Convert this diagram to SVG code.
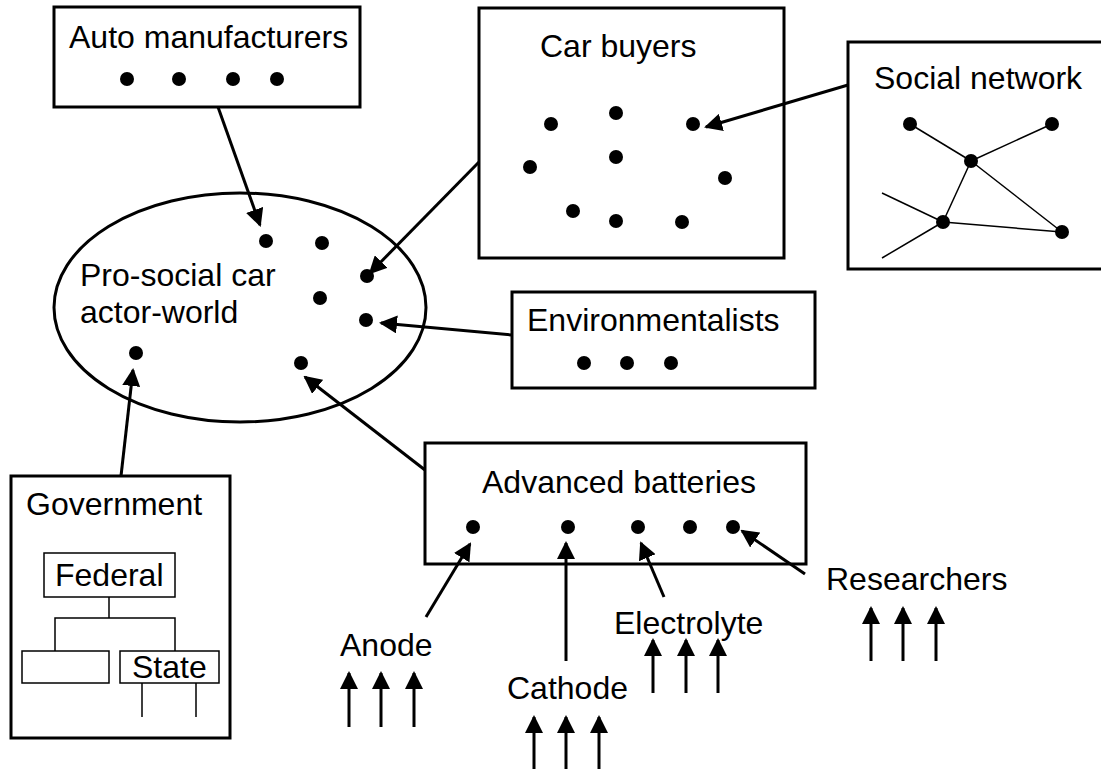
<svg xmlns="http://www.w3.org/2000/svg" width="1101" height="769" viewBox="0 0 1101 769">
<style>
text{font-family:"Liberation Sans",Arial,sans-serif;font-size:32px;fill:#000}
.box{fill:#fff;stroke:#000;stroke-width:3}
.thin{fill:none;stroke:#000;stroke-width:1.5}
.c{stroke:#000;stroke-width:3;fill:none}
.a{stroke:#000;stroke-width:3;fill:none;marker-end:url(#ah)}
</style>
<defs>
<marker id="ah" markerUnits="userSpaceOnUse" markerWidth="18" markerHeight="18" viewBox="0 0 18 18" refX="16" refY="9" orient="auto">
<path d="M0,0 L18,9 L0,18 z" fill="#000"/>
</marker>
<circle id="d" r="7" fill="#000"/>
</defs>
<rect width="1101" height="769" fill="#fff"/>

<g id="auto">
<rect class="box" x="54" y="7" width="306" height="100"/>
<text x="69" y="48">Auto manufacturers</text>
<use href="#d" x="127" y="79"/><use href="#d" x="179" y="79"/><use href="#d" x="233" y="79"/><use href="#d" x="277" y="79"/>
</g>

<g id="world">
<ellipse cx="240" cy="307.5" rx="186" ry="114.5" fill="#fff" stroke="#000" stroke-width="3"/>
<text x="80" y="286">Pro-social car</text>
<text x="80" y="323">actor-world</text>
<use href="#d" x="266" y="241"/><use href="#d" x="322" y="243"/><use href="#d" x="367" y="276"/><use href="#d" x="320" y="298"/><use href="#d" x="366" y="320"/><use href="#d" x="136" y="353"/><use href="#d" x="301" y="363"/>
</g>

<g id="buyers">
<rect class="box" x="479" y="8" width="305" height="250"/>
<text x="540" y="57">Car buyers</text>
<use href="#d" x="551" y="124"/><use href="#d" x="616" y="113"/><use href="#d" x="693" y="124"/><use href="#d" x="530" y="167"/><use href="#d" x="616" y="157"/><use href="#d" x="725" y="178"/><use href="#d" x="573" y="211"/><use href="#d" x="616" y="221"/><use href="#d" x="682" y="222"/>
</g>

<g id="social">
<rect class="box" x="848" y="42" width="262" height="227"/>
<text x="874" y="89">Social network</text>
<g class="thin">
<line x1="910" y1="124" x2="971" y2="161"/><line x1="1052" y1="124" x2="971" y2="161"/><line x1="971" y1="161" x2="943" y2="222"/><line x1="971" y1="161" x2="1062" y2="232"/><line x1="943" y1="222" x2="1062" y2="232"/><line x1="943" y1="222" x2="882" y2="193"/><line x1="943" y1="222" x2="882" y2="258"/>
</g>
<use href="#d" x="910" y="124"/><use href="#d" x="1052" y="124"/><use href="#d" x="971" y="161"/><use href="#d" x="943" y="222"/><use href="#d" x="1062" y="232"/>
</g>

<g id="env">
<rect class="box" x="512" y="292" width="303" height="96"/>
<text x="527" y="331">Environmentalists</text>
<use href="#d" x="584" y="363"/><use href="#d" x="627" y="363"/><use href="#d" x="671" y="363"/>
</g>

<g id="batteries">
<rect class="box" x="425" y="443" width="381" height="121"/>
<text x="482" y="493">Advanced batteries</text>
<use href="#d" x="473" y="527"/><use href="#d" x="568" y="527"/><use href="#d" x="638" y="527"/><use href="#d" x="690" y="527"/><use href="#d" x="733" y="527"/>
</g>

<g id="government">
<rect class="box" x="11" y="476" width="219" height="262"/>
<text x="26" y="515">Government</text>
<rect class="thin" x="44" y="553" width="131" height="44"/>
<text x="55" y="586">Federal</text>
<path class="thin" d="M109,597 V618 M55,651 V618 H175 V651 M142,683 V717 M196,683 V717"/>
<rect class="thin" x="22" y="651" width="87" height="32"/>
<rect class="thin" x="120" y="651" width="99" height="32"/>
<text x="132" y="678">State</text>
</g>

<g id="anode"><text x="340" y="656">Anode</text></g>
<g id="cathode"><text x="507" y="699">Cathode</text></g>
<g id="electrolyte"><text x="614" y="634">Electrolyte</text></g>
<g id="researchers"><text x="826" y="590">Researchers</text></g>

<g id="connectors">
<line class="a" x1="218" y1="107" x2="260" y2="225"/>
<line class="a" x1="479" y1="162" x2="370" y2="273"/>
<line class="a" x1="848" y1="85" x2="706" y2="127"/>
<line class="a" x1="512" y1="335" x2="381" y2="323"/>
<line class="a" x1="425" y1="470" x2="305" y2="377"/>
<line class="a" x1="121" y1="476" x2="133" y2="370"/>
<line class="a" x1="426" y1="617" x2="470" y2="544"/>
<line class="a" x1="566" y1="661" x2="566" y2="543"/>
<line class="a" x1="664" y1="597" x2="641" y2="543"/>
<line class="a" x1="805" y1="574" x2="742" y2="531"/>
<line class="a" x1="349" y1="727" x2="349" y2="673"/>
<line class="a" x1="381" y1="727" x2="381" y2="673"/>
<line class="a" x1="414" y1="727" x2="414" y2="673"/>
<line class="a" x1="534" y1="769" x2="534" y2="717"/>
<line class="a" x1="566" y1="769" x2="566" y2="717"/>
<line class="a" x1="599" y1="769" x2="599" y2="717"/>
<line class="a" x1="653" y1="693" x2="653" y2="640"/>
<line class="a" x1="686" y1="693" x2="686" y2="640"/>
<line class="a" x1="718" y1="693" x2="718" y2="640"/>
<line class="a" x1="871" y1="661" x2="871" y2="608"/>
<line class="a" x1="903" y1="661" x2="903" y2="608"/>
<line class="a" x1="936" y1="661" x2="936" y2="608"/>
</g>
</svg>
